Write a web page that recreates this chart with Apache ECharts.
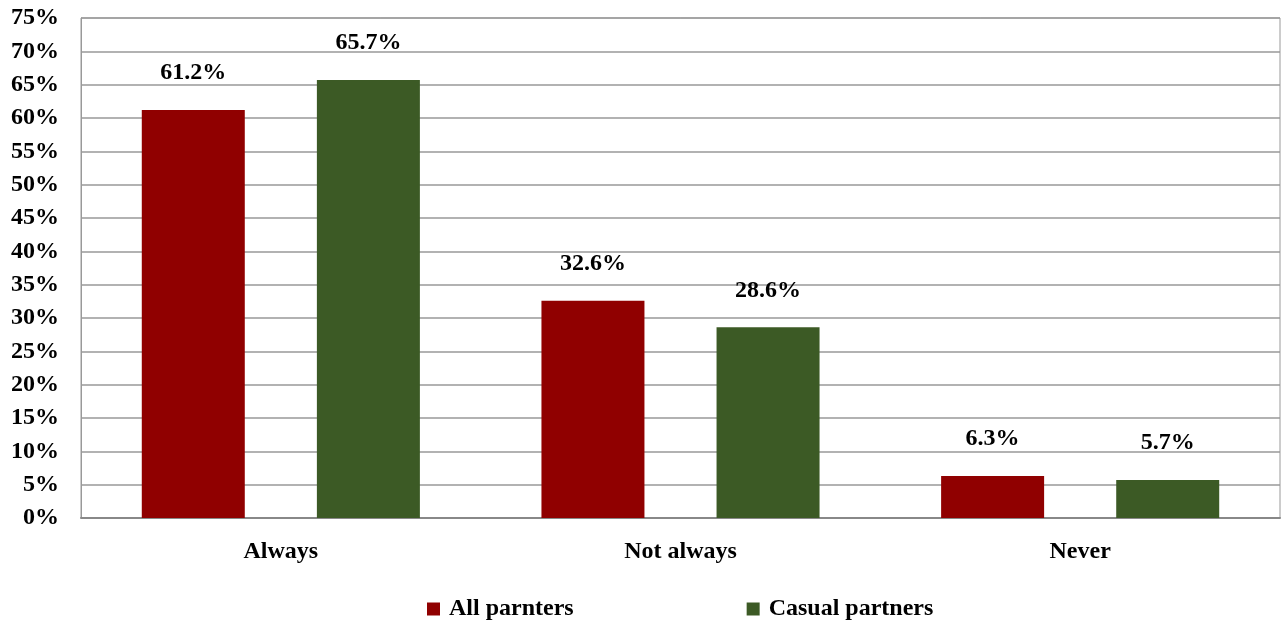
<!DOCTYPE html>
<html>
<head>
<meta charset="utf-8">
<script src="https://cdn.jsdelivr.net/npm/echarts@6/dist/echarts.min.js"></script>
<style>
  html, body { margin: 0; padding: 0; background: #fff; }
  #chart { width: 1282px; height: 623px; }
</style>
</head>
<body>
<div id="chart"></div>
<script>
// Condom use frequency by partner type
const categories = ['Always', 'Not always', 'Never'];
const allPartners = [61.2, 32.6, 6.3];
const casualPartners = [65.7, 28.6, 5.7];
const seriesNames = ['All parnters', 'Casual partners'];

const FONT = '"Liberation Serif", "Times New Roman", serif';
const textStyle = { fontFamily: FONT, fontWeight: 'bold', fontSize: 24, color: '#000' };

const chart = echarts.init(document.getElementById('chart'), null, { renderer: 'canvas' });

const labelCfg = {
  show: true,
  position: 'top',
  distance: 25,
  formatter: p => p.value.toFixed(1) + '%',
  fontFamily: FONT, fontWeight: 'bold', fontSize: 24, color: '#000'
};

chart.setOption({
  animation: false,
  backgroundColor: '#fff',
  grid: {
    left: 81, right: 2, top: 18, bottom: 105,
    show: true, borderColor: '#999', borderWidth: 1
  },
  legend: {
    left: 422, top: 592,
    itemGap: 173,
    itemWidth: 13, itemHeight: 13,
    icon: 'rect',
    textStyle: Object.assign({}, textStyle, { padding: [0, 0, 0, 4] }),
    data: seriesNames
  },
  xAxis: {
    type: 'category',
    data: categories,
    axisTick: { show: false },
    axisLine: { lineStyle: { color: '#888', width: 2 } },
    axisLabel: Object.assign({ margin: 22 }, textStyle)
  },
  yAxis: {
    type: 'value',
    min: 0, max: 75, interval: 5,
    axisLabel: Object.assign({ margin: 22, formatter: '{value}%' }, textStyle),
    axisLine: { show: true, lineStyle: { color: '#999', width: 1 } },
    axisTick: { show: false },
    splitLine: { lineStyle: { color: '#999', width: 1.5 } }
  },
  series: [
    {
      name: seriesNames[0], type: 'bar', data: allPartners,
      itemStyle: { color: '#900000' },
      barWidth: 103, barGap: '70%',
      label: labelCfg
    },
    {
      name: seriesNames[1], type: 'bar', data: casualPartners,
      itemStyle: { color: '#3c5a25' },
      barWidth: 103, barGap: '70%',
      label: labelCfg
    }
  ]
});
</script>
</body>
</html>
